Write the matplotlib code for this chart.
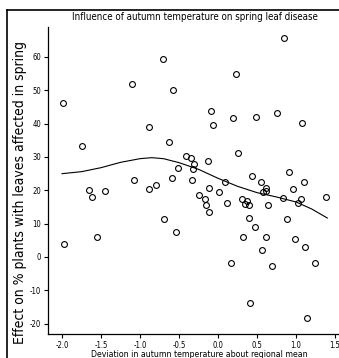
import numpy as np
import matplotlib
matplotlib.use("Agg")
import matplotlib.pyplot as plt
from matplotlib.lines import Line2D

# deviation of autumn temperature (deg) and effect on % plants affected
temp_dev = [
    -1.98, -1.99, -1.10, -0.70, -0.58, 0.23, 0.85, -0.09, 0.19, 0.49, 0.75,
    -1.74, -0.88, -0.06, 1.08, -0.63, 0.26, -0.41, -0.35, -0.31, -0.32,
    -0.51, -0.13, -1.08, -0.59, -0.34, 0.43, 0.91, 1.10, 0.55, 0.09,
    -1.65, -1.62, -1.45, -0.89, -0.79, -0.12, 0.01, -0.24, -0.17, -0.11,
    -0.16, 0.12, 0.31, 0.35, 0.39, 0.37, 0.57, 0.62, 0.61, 0.64, 0.83,
    0.96, 1.03, 1.06, 1.38, 0.88, 0.40, 0.47, -0.69, -0.54, -1.55, 0.32,
    0.62, 0.99, 0.56, 1.12, 0.17, 0.69, 1.24, 0.41, 1.14,
]
effect = [
    3.8, 46.2, 51.8, 59.3, 50.0, 55.0, 65.7, 43.8, 41.7, 42.0, 43.2,
    33.3, 39.0, 39.6, 40.2, 34.5, 31.2, 30.3, 29.7, 28.0, 26.4,
    26.7, 28.7, 23.0, 23.6, 23.0, 24.3, 25.5, 22.5, 22.5, 22.5,
    20.1, 18.1, 19.8, 20.3, 21.6, 20.6, 19.5, 18.6, 17.4, 13.5,
    15.6, 16.2, 17.4, 15.9, 15.6, 16.8, 19.5, 20.7, 19.8, 15.6, 17.7,
    20.4, 16.2, 17.4, 18.0, 11.4, 11.7, 9.0, 11.4, 7.5, 6.0, 6.0,
    6.0, 5.4, 2.1, 3.0, -1.8, -2.7, -1.8, -13.8, -18.3,
]

# smoothed trend
trend_x = [-2.0, -1.75, -1.5, -1.25, -1.0, -0.85, -0.7, -0.5, -0.25,
           0.0, 0.25, 0.5, 0.75, 1.0, 1.2, 1.4]
trend_y = [25.0, 25.6, 26.8, 28.4, 29.5, 29.8, 29.5, 28.3, 26.3,
           23.6, 21.2, 19.3, 18.0, 16.5, 14.4, 11.7]

x_ticks = [-2.0, -1.5, -1.0, -0.5, 0.0, 0.5, 1.0, 1.5]
y_ticks = [-20, -10, 0, 10, 20, 30, 40, 50, 60]

plt.rcParams["font.family"] = ["DejaVu Sans"]
plt.rcParams["font.stretch"] = "condensed"

fig = plt.figure(figsize=(3.39, 3.58), dpi=100)
ax = fig.add_axes([48 / 339, 1 - 334 / 358, 1 - 48 / 339, (334 - 27) / 358])

ax.plot(temp_dev, effect, "o", mfc="none", mec="black", ms=4.2, mew=0.8)
ax.plot(trend_x, trend_y, color="black", lw=0.8)

ax.set_xlim(-2.18, 1.55)
ax.set_ylim(-23.1, 69)
ax.set_xticks(x_ticks)
ax.set_xticklabels([f"{v:.1f}" for v in x_ticks])
ax.set_yticks(y_ticks)
ax.set_yticklabels([str(v) for v in y_ticks])
ax.tick_params(direction="out", length=3, width=0.8, labelsize=5.5, pad=2)
for side in ("top", "right"):
    ax.spines[side].set_visible(False)
for side in ("left", "bottom"):
    ax.spines[side].set_linewidth(0.9)

fig.text(195 / 339, 1 - 17 / 358, "Influence of autumn temperature on spring leaf disease",
         ha="center", va="center", fontsize=7)
fig.text(199 / 339, 1 - 350 / 358, "Deviation in autumn temperature about regional mean",
         ha="center", va="top", fontsize=6.3)
fig.text(20 / 339, 1 - 192 / 358, "Effect on % plants with leaves affected in spring",
         ha="center", va="center", rotation=90, fontsize=10)

# outer frame
fig.add_artist(Line2D([7 / 339, 7 / 339], [0, 1 - 10 / 358], color="black", lw=1.2))
fig.add_artist(Line2D([7 / 339, 1], [1 - 10 / 358, 1 - 10 / 358], color="black", lw=1.2))

fig.savefig("out.png", dpi=100)
